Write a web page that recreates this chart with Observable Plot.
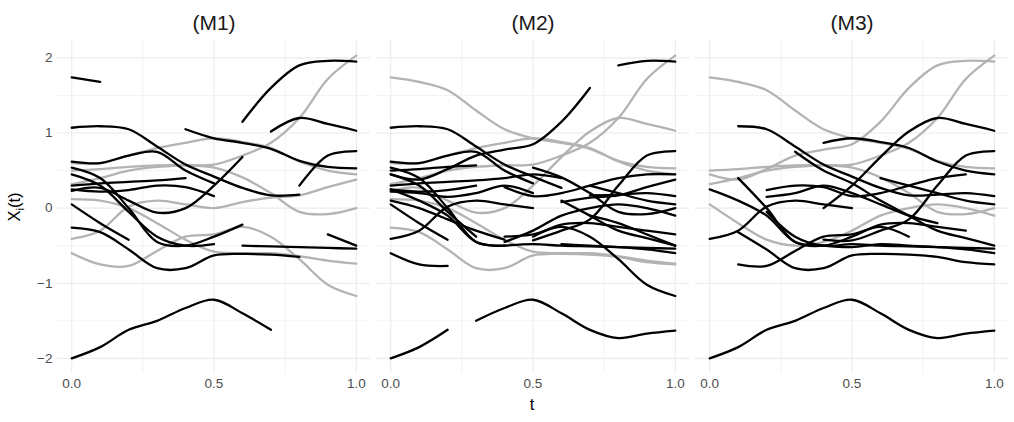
<!DOCTYPE html>
<html><head><meta charset="utf-8">
<script src="https://cdn.jsdelivr.net/npm/d3@7"></script>
<script src="https://cdn.jsdelivr.net/npm/@observablehq/plot@0.6"></script>
<style>body{margin:0;background:#fff} svg{display:block}</style>
</head><body><div id="chart"></div>
<script>
// time grid
const tGrid = [0,0.1,0.2,0.3,0.4,0.5,0.6,0.7,0.8,0.9,1.0];
const panels = ["(M1)","(M2)","(M3)"];
// underlying curves, values read at tGrid
const curveA = [-2.0,-1.85,-1.62,-1.5,-1.33,-1.22,-1.4,-1.62,-1.73,-1.67,-1.63];
const curveB = [1.74,1.68,1.57,1.3,1.05,0.93,0.87,0.79,0.63,0.55,0.53];
const curveC = [0.45,0.38,0.52,0.7,0.78,0.85,1.15,1.6,1.9,1.96,1.95];
const curveD = [0.32,0.4,0.5,0.55,0.57,0.58,0.7,0.87,1.2,1.72,2.03];
const curveE = [1.07,1.09,1.05,0.82,0.58,0.42,0.27,0.17,0.18,0.2,0.16];
const curveF = [0.23,0.27,0.1,-0.06,0.0,0.3,0.68,1.02,1.2,1.12,1.03];
const curveG = [0.1,0.0,-0.15,-0.3,-0.42,-0.43,-0.3,-0.15,0.3,0.7,0.76];
const curveH = [0.12,0.1,0.0,-0.2,-0.42,-0.58,-0.6,-0.6,-0.64,-0.7,-0.74];
const curveI = [-0.6,-0.75,-0.77,-0.57,-0.38,-0.35,-0.25,-0.38,-0.68,-1.02,-1.17];
const curveJ = [0.62,0.6,0.7,0.75,0.5,0.33,0.1,-0.1,-0.3,-0.4,-0.5];
const curveK = [0.45,0.3,-0.05,-0.38,-0.5,-0.48,-0.5,-0.51,-0.52,-0.53,-0.54];
const curveL = [-0.41,-0.3,0.02,0.1,0.05,0.0,0.08,0.14,0.17,0.28,0.38];
const curveM = [0.54,0.4,0.0,-0.45,-0.5,-0.38,-0.22,-0.2,-0.25,-0.3,-0.35];
const curveN = [-0.26,-0.32,-0.55,-0.8,-0.8,-0.63,-0.61,-0.62,-0.65,-0.72,-0.75];
const curveO = [0.3,0.33,0.35,0.37,0.4,0.45,0.4,0.3,0.2,0.1,0.05];
const curveP = [0.25,0.22,0.24,0.3,0.28,0.16,0.2,0.3,0.4,0.45,0.45];
const curveQ = [0.05,-0.2,-0.42,-0.5,-0.45,-0.3,-0.1,0.0,0.05,0.0,-0.1];
const curveR = [0.6,0.6,0.7,0.8,0.87,0.93,0.88,0.8,0.62,0.5,0.45];
const curveS = [0.22,0.2,0.15,0.2,0.3,0.2,0.05,-0.1,-0.2,-0.35,-0.5];
const curveT = [0.25,0.1,-0.1,-0.45,-0.5,-0.52,-0.48,-0.5,-0.52,-0.55,-0.6];
const curveU = [0.5,0.52,0.55,0.57,0.57,0.54,0.41,0.2,-0.05,-0.08,0.0];

// fully observed (gray) curves per panel
const fullM1 = ["D","H","I","L","R","U"];
const fullM2 = ["B","D","F","N","R","H"];
const fullM3 = ["B","C","D","U","Q"];
// observed intervals of partially observed (black) curves per panel
const obsM1 = {A:[[0,0.7]],B:[[0,0.1],[0.4,1]],C:[[0.6,1]],E:[[0,0.8]],F:[[0,0.6],[0.7,1]],G:[[0.8,1]],
  J:[[0,0.5]],K:[[0,0.5],[0.6,1]],M:[[0,0.6]],N:[[0,0.8]],O:[[0,0.4]],P:[[0,0.5]],Q:[[0,0.2]],S:[[0.9,1]]};
const obsM2 = {A:[[0,0.2],[0.3,1]],C:[[0,0.7],[0.8,1]],E:[[0,0.6],[0.7,1]],G:[[0,0.4],[0.5,1]],I:[[0,0.2],[0.4,1]],
  J:[[0,0.5],[0.6,1]],K:[[0,0.3],[0.4,1]],L:[[0,0.5],[0.6,1]],M:[[0,0.4],[0.5,1]],O:[[0,0.6],[0.7,1]],
  P:[[0,0.3],[0.4,1]],Q:[[0,0.2],[0.4,1]],S:[[0,0.5],[0.7,1]],T:[[0,0.4],[0.6,1]],U:[[0,0.3],[0.5,1]]};
const obsM3 = {A:[[0,1]],E:[[0.1,1]],F:[[0.4,1]],G:[[0.4,1]],I:[[0.1,0.7]],J:[[0.3,1]],K:[[0.2,1]],L:[[0,0.5]],
  M:[[0.1,0.9]],N:[[0.1,1]],O:[[0.6,1]],P:[[0.2,0.9]],R:[[0.4,1]],S:[[0.2,0.8]],T:[[0,1]]};

const curves = {A:curveA,B:curveB,C:curveC,D:curveD,E:curveE,F:curveF,G:curveG,H:curveH,I:curveI,J:curveJ,
  K:curveK,L:curveL,M:curveM,N:curveN,O:curveO,P:curveP,Q:curveQ,R:curveR,S:curveS,T:curveT,U:curveU};
const fulls = [fullM1, fullM2, fullM3];
const obss = [obsM1, obsM2, obsM3];

const grayRows = [], blackRows = [];
panels.forEach((p, pi) => {
  fulls[pi].forEach(name => {
    curves[name].forEach((v, i) => grayRows.push({panel:p, id:p+name, t:tGrid[i], v}));
  });
  Object.entries(obss[pi]).forEach(([name, ivs]) => {
    ivs.forEach(([a, b], k) => {
      curves[name].forEach((v, i) => {
        const t = tGrid[i];
        if (t >= a - 1e-9 && t <= b + 1e-9) blackRows.push({panel:p, id:p+name+k, t, v});
      });
    });
  });
});

const font = "'Liberation Sans', Arial, Helvetica, sans-serif";
const chart = Plot.plot({
  width: 1014, height: 422,
  marginTop: 40, marginBottom: 49, marginLeft: 56, marginRight: 5,
  style: {fontFamily: font, background: "#fff", overflow: "visible"},
  fx: {domain: panels, paddingInner: 0.02, paddingOuter: 0, label: null},
  x: {domain: [-0.05, 1.05]},
  y: {domain: [-2.2015, 2.2315]},
  marks: [
    Plot.ruleX([0.25, 0.75], {stroke: "#EBEBEB", strokeWidth: 0.6}),
    Plot.ruleY([-1.5, -0.5, 0.5, 1.5], {stroke: "#EBEBEB", strokeWidth: 0.6}),
    Plot.ruleX([0, 0.5, 1], {stroke: "#EBEBEB", strokeWidth: 1.1}),
    Plot.ruleY([-2, -1, 0, 1, 2], {stroke: "#EBEBEB", strokeWidth: 1.1}),
    Plot.line(grayRows, {x: "t", y: "v", z: "id", fx: "panel", stroke: "#B3B3B3", strokeWidth: 2.3, curve: "catmull-rom"}),
    Plot.line(blackRows, {x: "t", y: "v", z: "id", fx: "panel", stroke: "#000", strokeWidth: 2.3, curve: "catmull-rom"}),
    Plot.axisX({ticks: [0, 0.5, 1], tickFormat: d3.format(".1f"), tickSize: 0, tickPadding: 5, fontSize: 13.5, fill: "#4D4D4D", label: null}),
    Plot.axisY({ticks: [-2, -1, 0, 1, 2], tickFormat: d => d < 0 ? "\u2212" + Math.abs(d) : String(d), tickSize: 0, tickPadding: 5, fontSize: 13.5, fill: "#4D4D4D", label: null}),
    Plot.axisFx({anchor: "top", tickSize: 0, tickPadding: 11, fontSize: 21, fill: "#1A1A1A", label: null})
  ]
});
document.getElementById("chart").appendChild(chart);

const svg = d3.select(chart);
svg.append("text").attr("x", 532).attr("y", 410).attr("text-anchor", "middle")
  .attr("font-size", 16.5).attr("fill", "#000").attr("font-family", font).text("t");
const yl = svg.append("text").attr("transform", "translate(20,207) rotate(-90)").attr("text-anchor", "middle")
  .attr("font-size", 16.5).attr("fill", "#000").attr("font-family", font);
yl.append("tspan").text("X");
yl.append("tspan").attr("font-size", 11.5).attr("dy", 4).text("i");
yl.append("tspan").attr("dy", -4).text("(t)");
</script></body></html>
